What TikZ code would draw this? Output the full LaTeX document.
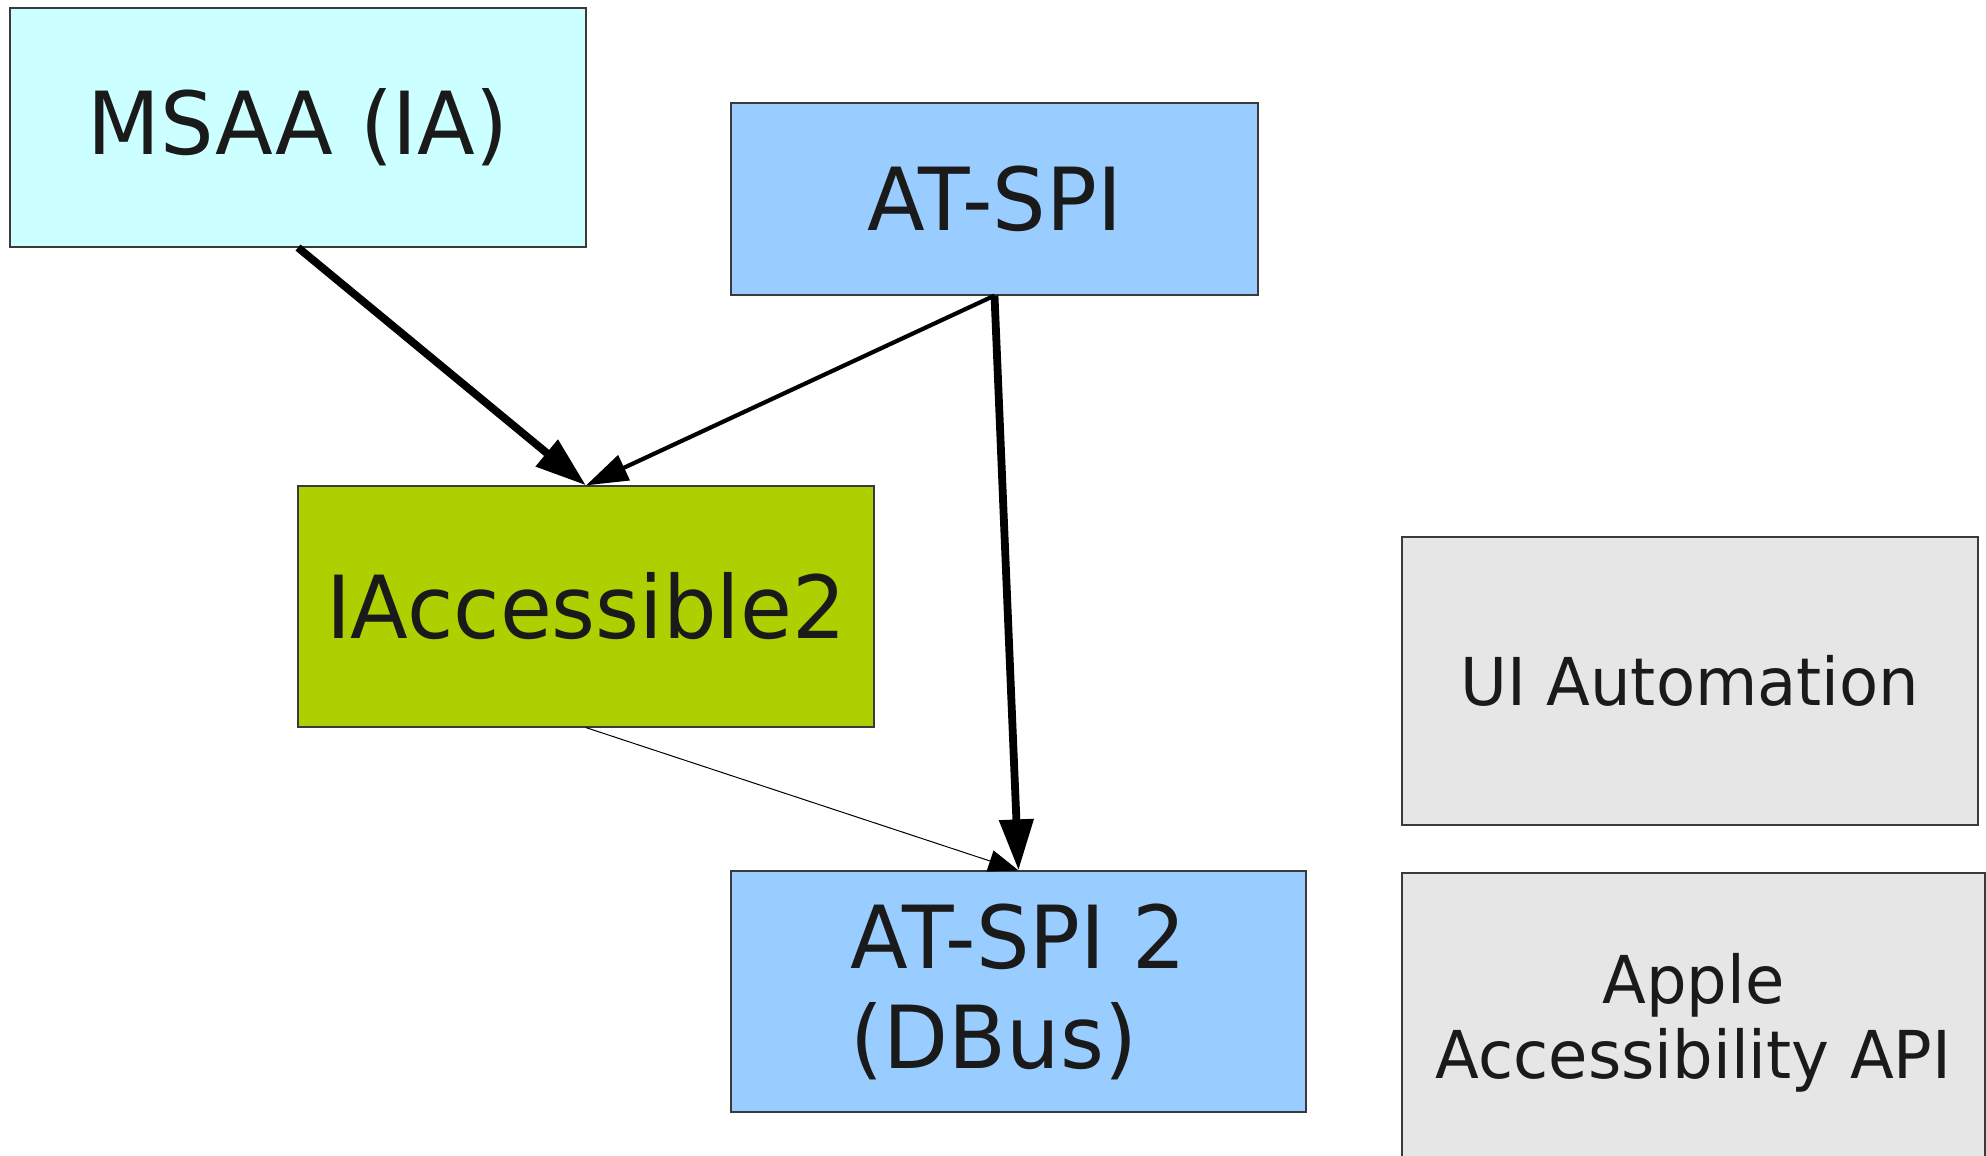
\documentclass[tikz,border=0pt]{standalone}
\usepackage{fontspec}
\setmainfont[FakeStretch=0.97]{DejaVu Sans}
\usetikzlibrary{arrows.meta}
\definecolor{msaafill}{HTML}{CCFFFF}
\definecolor{atspifill}{HTML}{99CCFF}
\definecolor{iafill}{HTML}{AFD000}
\definecolor{greyfill}{HTML}{E6E6E6}
\definecolor{txt}{HTML}{1A1A1A}
\definecolor{border}{HTML}{3A3A3A}
\begin{document}
\begin{tikzpicture}[x=0.5pt,y=-0.5pt,
  box/.style={draw=border, line width=0.6pt, inner sep=0pt, text=txt},
  bigtext/.style={font=\fontsize{43.5}{50}\selectfont},
  smalltext/.style={font=\fontsize{33}{37.5}\selectfont},
  heavyarrow/.style={draw=black, line width=3.9pt, -{Triangle[length=25.5pt,width=16.5pt]}},
  midarrow/.style={draw=black, line width=2.1pt, -{Triangle[length=21pt,width=13.5pt]}},
  thinarrow/.style={draw=black, line width=0.5pt, -{Triangle[length=15pt,width=11pt]}}]
\useasboundingbox (0,0) rectangle (1986,1156);
\node[box, fill=msaafill, minimum width=288pt, minimum height=119.5pt, bigtext] (msaa) at (298,127.5) {MSAA (IA)};
\node[box, fill=atspifill, minimum width=263.5pt, minimum height=96pt, bigtext] (atspi) at (994.5,199) {AT-SPI};
\node[box, fill=iafill, minimum width=288pt, minimum height=120.5pt, bigtext] (ia) at (586,606.5) {IAccessible2};
\node[box, fill=atspifill, minimum width=287.5pt, minimum height=120.5pt, bigtext, align=left] (atspitwo) at (1018.5,991.5) {AT-SPI 2\\(DBus)};
\node[box, fill=greyfill, minimum width=288pt, minimum height=144pt, smalltext] (uia) at (1690,681) {UI Automation};
\node[box, fill=greyfill, minimum width=291.5pt, minimum height=149.5pt, smalltext, align=center] (apple) at (1693.5,1022.5) {Apple\\Accessibility API};
\draw[heavyarrow] (msaa.south) -- (ia.north);
\draw[midarrow] (atspi.south) -- (ia.north);
\draw[heavyarrow] (atspi.south) -- (atspitwo.north);
\draw[thinarrow] (ia.south) -- (atspitwo.north);
\end{tikzpicture}
\end{document}
